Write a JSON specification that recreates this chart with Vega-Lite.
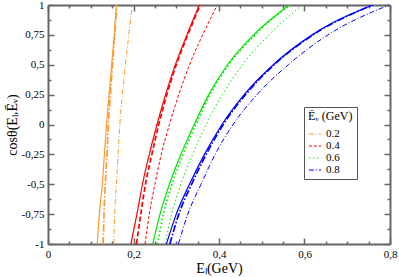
{
  "$schema": "https://vega.github.io/schema/vega-lite/v6.json",
  "width": 342,
  "height": 239,
  "autosize": "none",
  "padding": {"left": 48, "top": 5, "right": 9, "bottom": 33},
  "background": "white",
  "config": {
    "font": "Liberation Serif",
    "view": {"stroke": null},
    "axis": {"grid": false, "labelFont": "Liberation Serif", "titleFont": "Liberation Serif", "labelColor": "black", "titleColor": "black", "labelFontSize": 11, "titleFontSize": 14, "titleFontWeight": "normal", "domainColor": "#666666", "domainWidth": 2, "tickColor": "#666666", "tickWidth": 1.5}
  },
  "datasets": {
    "curves": [
      {"Ev": "0.2", "kind": "solid", "c": -1, "E": 0.115}, {"Ev": "0.2", "kind": "solid", "c": -0.75, "E": 0.12}, {"Ev": "0.2", "kind": "solid", "c": -0.5, "E": 0.127}, {"Ev": "0.2", "kind": "solid", "c": -0.25, "E": 0.132}, {"Ev": "0.2", "kind": "solid", "c": 0, "E": 0.137}, {"Ev": "0.2", "kind": "solid", "c": 0.25, "E": 0.143}, {"Ev": "0.2", "kind": "solid", "c": 0.5, "E": 0.149}, {"Ev": "0.2", "kind": "solid", "c": 0.75, "E": 0.155}, {"Ev": "0.2", "kind": "solid", "c": 1, "E": 0.16},
      {"Ev": "0.2", "kind": "thick", "c": -1, "E": 0.129}, {"Ev": "0.2", "kind": "thick", "c": -0.75, "E": 0.131}, {"Ev": "0.2", "kind": "thick", "c": -0.5, "E": 0.134}, {"Ev": "0.2", "kind": "thick", "c": -0.25, "E": 0.138}, {"Ev": "0.2", "kind": "thick", "c": 0, "E": 0.141}, {"Ev": "0.2", "kind": "thick", "c": 0.25, "E": 0.146}, {"Ev": "0.2", "kind": "thick", "c": 0.5, "E": 0.151}, {"Ev": "0.2", "kind": "thick", "c": 0.75, "E": 0.156}, {"Ev": "0.2", "kind": "thick", "c": 1, "E": 0.161},
      {"Ev": "0.2", "kind": "thin", "c": -1, "E": 0.154}, {"Ev": "0.2", "kind": "thin", "c": -0.75, "E": 0.156}, {"Ev": "0.2", "kind": "thin", "c": -0.5, "E": 0.16}, {"Ev": "0.2", "kind": "thin", "c": -0.25, "E": 0.164}, {"Ev": "0.2", "kind": "thin", "c": 0, "E": 0.168}, {"Ev": "0.2", "kind": "thin", "c": 0.25, "E": 0.174}, {"Ev": "0.2", "kind": "thin", "c": 0.5, "E": 0.181}, {"Ev": "0.2", "kind": "thin", "c": 0.75, "E": 0.189}, {"Ev": "0.2", "kind": "thin", "c": 1, "E": 0.197},
      {"Ev": "0.4", "kind": "solid", "c": -1, "E": 0.194}, {"Ev": "0.4", "kind": "solid", "c": -0.75, "E": 0.208}, {"Ev": "0.4", "kind": "solid", "c": -0.5, "E": 0.221}, {"Ev": "0.4", "kind": "solid", "c": -0.25, "E": 0.237}, {"Ev": "0.4", "kind": "solid", "c": 0, "E": 0.255}, {"Ev": "0.4", "kind": "solid", "c": 0.25, "E": 0.275}, {"Ev": "0.4", "kind": "solid", "c": 0.5, "E": 0.298}, {"Ev": "0.4", "kind": "solid", "c": 0.75, "E": 0.325}, {"Ev": "0.4", "kind": "solid", "c": 1, "E": 0.354},
      {"Ev": "0.4", "kind": "thick", "c": -1, "E": 0.207}, {"Ev": "0.4", "kind": "thick", "c": -0.75, "E": 0.217}, {"Ev": "0.4", "kind": "thick", "c": -0.5, "E": 0.228}, {"Ev": "0.4", "kind": "thick", "c": -0.25, "E": 0.243}, {"Ev": "0.4", "kind": "thick", "c": 0, "E": 0.259}, {"Ev": "0.4", "kind": "thick", "c": 0.25, "E": 0.278}, {"Ev": "0.4", "kind": "thick", "c": 0.5, "E": 0.3}, {"Ev": "0.4", "kind": "thick", "c": 0.75, "E": 0.327}, {"Ev": "0.4", "kind": "thick", "c": 1, "E": 0.356},
      {"Ev": "0.4", "kind": "thin", "c": -1, "E": 0.227}, {"Ev": "0.4", "kind": "thin", "c": -0.75, "E": 0.237}, {"Ev": "0.4", "kind": "thin", "c": -0.5, "E": 0.25}, {"Ev": "0.4", "kind": "thin", "c": -0.25, "E": 0.265}, {"Ev": "0.4", "kind": "thin", "c": 0, "E": 0.284}, {"Ev": "0.4", "kind": "thin", "c": 0.25, "E": 0.306}, {"Ev": "0.4", "kind": "thin", "c": 0.5, "E": 0.331}, {"Ev": "0.4", "kind": "thin", "c": 0.75, "E": 0.362}, {"Ev": "0.4", "kind": "thin", "c": 1, "E": 0.396},
      {"Ev": "0.6", "kind": "solid", "c": -1, "E": 0.245}, {"Ev": "0.6", "kind": "solid", "c": -0.75, "E": 0.262}, {"Ev": "0.6", "kind": "solid", "c": -0.5, "E": 0.284}, {"Ev": "0.6", "kind": "solid", "c": -0.25, "E": 0.311}, {"Ev": "0.6", "kind": "solid", "c": 0, "E": 0.342}, {"Ev": "0.6", "kind": "solid", "c": 0.25, "E": 0.376}, {"Ev": "0.6", "kind": "solid", "c": 0.5, "E": 0.42}, {"Ev": "0.6", "kind": "solid", "c": 0.75, "E": 0.481}, {"Ev": "0.6", "kind": "solid", "c": 1, "E": 0.564},
      {"Ev": "0.6", "kind": "thick", "c": -1, "E": 0.256}, {"Ev": "0.6", "kind": "thick", "c": -0.75, "E": 0.27}, {"Ev": "0.6", "kind": "thick", "c": -0.5, "E": 0.29}, {"Ev": "0.6", "kind": "thick", "c": -0.25, "E": 0.316}, {"Ev": "0.6", "kind": "thick", "c": 0, "E": 0.346}, {"Ev": "0.6", "kind": "thick", "c": 0.25, "E": 0.379}, {"Ev": "0.6", "kind": "thick", "c": 0.5, "E": 0.423}, {"Ev": "0.6", "kind": "thick", "c": 0.75, "E": 0.484}, {"Ev": "0.6", "kind": "thick", "c": 1, "E": 0.566},
      {"Ev": "0.6", "kind": "thin", "c": -1, "E": 0.274}, {"Ev": "0.6", "kind": "thin", "c": -0.75, "E": 0.289}, {"Ev": "0.6", "kind": "thin", "c": -0.5, "E": 0.311}, {"Ev": "0.6", "kind": "thin", "c": -0.25, "E": 0.338}, {"Ev": "0.6", "kind": "thin", "c": 0, "E": 0.37}, {"Ev": "0.6", "kind": "thin", "c": 0.25, "E": 0.408}, {"Ev": "0.6", "kind": "thin", "c": 0.5, "E": 0.455}, {"Ev": "0.6", "kind": "thin", "c": 0.75, "E": 0.517}, {"Ev": "0.6", "kind": "thin", "c": 1, "E": 0.595},
      {"Ev": "0.8", "kind": "solid", "c": -1, "E": 0.277}, {"Ev": "0.8", "kind": "solid", "c": -0.75, "E": 0.3}, {"Ev": "0.8", "kind": "solid", "c": -0.5, "E": 0.331}, {"Ev": "0.8", "kind": "solid", "c": -0.25, "E": 0.366}, {"Ev": "0.8", "kind": "solid", "c": 0, "E": 0.407}, {"Ev": "0.8", "kind": "solid", "c": 0.25, "E": 0.459}, {"Ev": "0.8", "kind": "solid", "c": 0.5, "E": 0.527}, {"Ev": "0.8", "kind": "solid", "c": 0.75, "E": 0.618}, {"Ev": "0.8", "kind": "solid", "c": 1, "E": 0.759},
      {"Ev": "0.8", "kind": "thick", "c": -1, "E": 0.285}, {"Ev": "0.8", "kind": "thick", "c": -0.75, "E": 0.306}, {"Ev": "0.8", "kind": "thick", "c": -0.5, "E": 0.336}, {"Ev": "0.8", "kind": "thick", "c": -0.25, "E": 0.37}, {"Ev": "0.8", "kind": "thick", "c": 0, "E": 0.41}, {"Ev": "0.8", "kind": "thick", "c": 0.25, "E": 0.462}, {"Ev": "0.8", "kind": "thick", "c": 0.5, "E": 0.529}, {"Ev": "0.8", "kind": "thick", "c": 0.75, "E": 0.62}, {"Ev": "0.8", "kind": "thick", "c": 1, "E": 0.76},
      {"Ev": "0.8", "kind": "thin", "c": -1, "E": 0.305}, {"Ev": "0.8", "kind": "thin", "c": -0.75, "E": 0.327}, {"Ev": "0.8", "kind": "thin", "c": -0.5, "E": 0.358}, {"Ev": "0.8", "kind": "thin", "c": -0.25, "E": 0.391}, {"Ev": "0.8", "kind": "thin", "c": 0, "E": 0.433}, {"Ev": "0.8", "kind": "thin", "c": 0.25, "E": 0.489}, {"Ev": "0.8", "kind": "thin", "c": 0.5, "E": 0.562}, {"Ev": "0.8", "kind": "thin", "c": 0.75, "E": 0.655}, {"Ev": "0.8", "kind": "thin", "c": 1, "E": 0.798}
    ]
  },
  "data": {"name": "curves"},
  "resolve": {"axis": {"x": "independent", "y": "independent"}, "scale": {"strokeDash": "independent"}},
  "layer": [
    {
      "transform": [{"filter": "datum.kind === 'thin'"}],
      "mark": {"type": "line", "strokeWidth": 1, "interpolate": "monotone", "clip": true},
      "encoding": {
        "x": {"field": "E", "type": "quantitative", "scale": {"domain": [0, 0.8], "nice": false, "zero": false}, "axis": {"orient": "bottom", "values": [0, 0.2, 0.4, 0.6, 0.8], "tickSize": -6, "labelPadding": 10, "labelExpr": "replace(toString(datum.value), '.', ',')", "title": "Eₗ(GeV)", "titlePadding": 2, "labelFlush": false}},
        "y": {"field": "c", "type": "quantitative", "scale": {"domain": [-1, 1], "nice": false, "zero": false}, "axis": {"orient": "left", "values": [-1, -0.75, -0.5, -0.25, 0, 0.25, 0.5, 0.75, 1], "tickSize": -6, "labelPadding": 10, "labelExpr": "replace(toString(datum.value), '.', ',')", "title": "cosθ(Eₗ,Ēᵥ)", "titlePadding": 2, "labelFlush": false}},
        "order": {"field": "c", "type": "quantitative"},
        "color": {"field": "Ev", "type": "nominal", "scale": {"domain": ["0.2", "0.4", "0.6", "0.8"], "range": ["#ff9a2e", "#ff0000", "#00e600", "#0000ff"]}, "legend": null},
        "strokeDash": {"field": "Ev", "type": "nominal", "title": "Ēᵥ (GeV)", "scale": {"domain": ["0.2", "0.4", "0.6", "0.8"], "range": [[5, 2, 1, 2], [3, 2], [1.5, 2.5], [5, 2, 1, 2]]},
          "legend": {"orient": "none", "legendX": 256, "legendY": 102, "symbolType": "stroke", "symbolSize": 150, "symbolStrokeWidth": 1.2, "strokeColor": "#555555", "fillColor": "white", "padding": 4, "rowPadding": 0, "labelFont": "Liberation Serif", "labelFontSize": 11, "titleFont": "Liberation Serif", "titleFontSize": 12, "titleFontWeight": 400, "labelColor": "black", "titleColor": "black", "titlePadding": 4,
            "encode": {"symbols": {"update": {"stroke": {"scale": "color", "field": "value"}}}}}}
      }
    },
    {
      "transform": [{"filter": "datum.kind === 'solid'"}],
      "mark": {"type": "line", "strokeWidth": 1.2, "interpolate": "monotone", "clip": true},
      "encoding": {
        "x": {"field": "E", "type": "quantitative", "axis": {"orient": "top", "values": [0, 0.2, 0.4, 0.6, 0.8], "tickSize": -6, "labels": false, "title": null}},
        "y": {"field": "c", "type": "quantitative", "axis": {"orient": "right", "values": [-1, -0.75, -0.5, -0.25, 0, 0.25, 0.5, 0.75, 1], "tickSize": -6, "labels": false, "title": null}},
        "order": {"field": "c", "type": "quantitative"},
        "detail": {"field": "Ev"},
        "color": {"field": "Ev", "type": "nominal", "legend": null}
      }
    },
    {
      "transform": [{"filter": "datum.kind === 'thick'"}],
      "mark": {"type": "line", "strokeWidth": 1.7, "interpolate": "monotone", "clip": true},
      "encoding": {
        "x": {"field": "E", "type": "quantitative", "axis": {"orient": "bottom", "values": [0.05, 0.1, 0.15, 0.25, 0.3, 0.35, 0.45, 0.5, 0.55, 0.65, 0.7, 0.75], "tickSize": -3, "labels": false, "domain": false, "title": null}},
        "y": {"field": "c", "type": "quantitative", "axis": {"orient": "left", "values": [-0.875, -0.625, -0.375, -0.125, 0.125, 0.375, 0.625, 0.875], "tickSize": -3, "labels": false, "domain": false, "title": null}},
        "order": {"field": "c", "type": "quantitative"},
        "color": {"field": "Ev", "type": "nominal", "legend": null},
        "strokeDash": {"field": "Ev", "type": "nominal", "scale": {"domain": ["0.2", "0.4", "0.6", "0.8"], "range": [[7, 2, 1.5, 2], [5, 2.5], [1.5, 2.5], [7, 2, 1.5, 2]]}, "legend": null}
      }
    },
    {
      "transform": [{"filter": "datum.kind === 'solid'"}],
      "mark": {"type": "line", "opacity": 0, "clip": true},
      "encoding": {
        "x": {"field": "E", "type": "quantitative", "axis": {"orient": "top", "values": [0.05, 0.1, 0.15, 0.25, 0.3, 0.35, 0.45, 0.5, 0.55, 0.65, 0.7, 0.75], "tickSize": -3, "labels": false, "domain": false, "title": null}},
        "y": {"field": "c", "type": "quantitative", "axis": {"orient": "right", "values": [-0.875, -0.625, -0.375, -0.125, 0.125, 0.375, 0.625, 0.875], "tickSize": -3, "labels": false, "domain": false, "title": null}},
        "detail": {"field": "Ev"},
        "order": {"field": "c", "type": "quantitative"}
      }
    }
  ]
}
